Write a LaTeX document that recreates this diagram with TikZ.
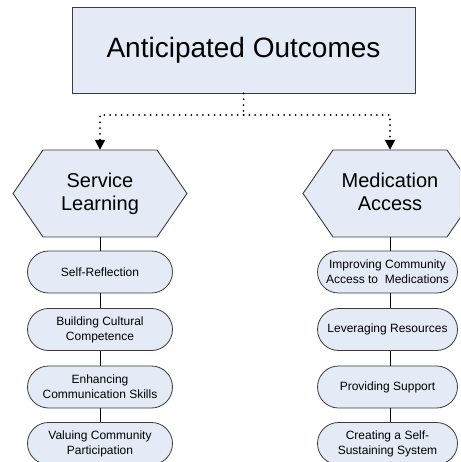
\documentclass[tikz,border=0pt]{standalone}
\usepackage{fontspec}
\setmainfont{Liberation Sans}
\usetikzlibrary{shapes.misc,arrows.meta}
\definecolor{boxfill}{RGB}{228,234,246}
\definecolor{boxline}{RGB}{60,60,60}
\tikzset{
  topbox/.style={draw=boxline, fill=boxfill, line width=0.9pt, minimum width=343pt, minimum height=86pt, inner sep=0pt, font=\fontsize{28}{32}\selectfont},
  hexlabel/.style={minimum width=174pt, minimum height=87pt, inner sep=0pt, align=center, font=\fontsize{20}{23}\selectfont},
  hexshape/.style={draw=boxline, fill=boxfill, line width=0.9pt},
  pill/.style={rounded rectangle, draw=boxline, fill=boxfill, line width=0.8pt, minimum width=#1, minimum height=42pt, inner sep=0pt, align=center, font=\fontsize{12}{15}\selectfont},
  pill/.default=145pt,
  dotline/.style={line width=2pt, line cap=round, dash pattern=on 0pt off 5.8pt},
  dotarrow/.style={dotline, -{Triangle[width=10pt,length=10pt,line cap=butt]}},
  link/.style={line width=0.9pt, black}
}
\begin{document}
\begin{tikzpicture}[x=1pt,y=-1pt]
\useasboundingbox (0,0) rectangle (460,462);
\clip (0,0) rectangle (460,462);
\node[topbox] (top) at (243.5,50) {Anticipated Outcomes};
% hexagons
\draw[hexshape] (13,193.5) -- (43,150) -- (157,150) -- (187,193.5) -- (157,237) -- (43,237) -- cycle;
\node[hexlabel] (sl) at (100,193.5) {Service\\Learning};
\draw[hexshape] (303,193.5) -- (333,150) -- (447,150) -- (477,193.5) -- (447,237) -- (333,237) -- cycle;
\node[hexlabel] (ma) at (390,193.5) {Medication\\Access\vphantom{g}};
% dotted connectors
\coordinate (split) at (243.5,115);
\draw[dotline] (top.south) -- (split);
\draw[dotarrow] (split) -- (100,115) -- (sl.north);
\draw[dotarrow] (split) -- (390,115) -- (ma.north);
% left pills
\node[pill] (l1) at (100,272) {Self-Reflection};
\node[pill] (l2) at (100,329.5) {Building Cultural\\Competence};
\node[pill] (l3) at (100,387) {Enhancing\\Communication Skills};
\node[pill] (l4) at (100,443.5) {Valuing Community\\Participation};
% right pills
\node[pill=140pt] (r1) at (387.5,272) {Improving Community\\Access to\ \ Medications};
\node[pill=140pt] (r2) at (387.5,329.5) {Leveraging Resources};
\node[pill=140pt] (r3) at (387.5,387) {Providing Support};
\node[pill=140pt] (r4) at (387.5,443.5) {Creating a Self-\\Sustaining System};
% solid links
\draw[link] (sl.south) -- (l1.north);
\draw[link] (l1.south) -- (l2.north);
\draw[link] (l2.south) -- (l3.north);
\draw[link] (l3.south) -- (l4.north);
\draw[link] (ma.south) -- (ma.south |- r1.north);
\draw[link] (ma.south |- r1.south) -- (ma.south |- r2.north);
\draw[link] (ma.south |- r2.south) -- (ma.south |- r3.north);
\draw[link] (ma.south |- r3.south) -- (ma.south |- r4.north);
\end{tikzpicture}
\end{document}
